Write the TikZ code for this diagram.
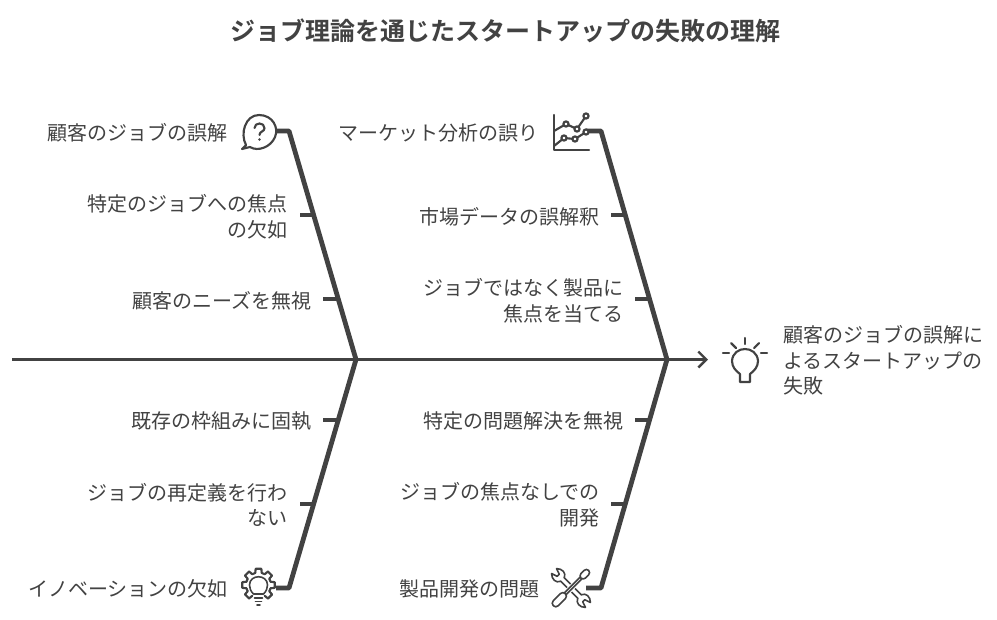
\documentclass[tikz,border=0pt]{standalone}
\usepackage{fontspec}
\setmainfont{Noto Sans CJK JP}
\newfontfamily\titlefont{Noto Sans CJK JP Bold}
\usepackage{tikz}
\usetikzlibrary{arrows.meta}
\definecolor{inkgray}{HTML}{424242}
\tikzset{
	bone/.style={draw=inkgray,line width=3.6pt,line join=round},
	twig/.style={draw=inkgray,line width=3pt},
	spine/.style={draw=inkgray,line width=1.8pt},
	icon/.style={draw=inkgray,line width=1.6pt,line cap=round,line join=round,fill=none},
	fineicon/.style={draw=inkgray,line width=1.2pt,line cap=round,line join=round,fill=none},
	cause/.style={text=inkgray,font=\fontsize{15pt}{19pt}\selectfont,inner sep=0pt,align=right,anchor=east},
	effect/.style={text=inkgray,font=\fontsize{15pt}{19pt}\selectfont,inner sep=0pt,align=left,anchor=west}
}
\begin{document}
\begin{tikzpicture}[x=0.75pt,y=-0.75pt]
	\useasboundingbox (0,0) rectangle (997,619);
	
	\node[text=inkgray,font=\titlefont\fontsize{18.75pt}{22pt}\selectfont,inner sep=0pt] (title) at (505,31) {ジョブ理論を通じたスタートアップの失敗の理解};
	
	% spine and junctions
	\coordinate (tail) at (12,359.5);
	\coordinate (headA) at (356,359.5);
	\coordinate (headB) at (667,359.5);
	\coordinate (tip) at (708,359.5);
	
	\coordinate (ulA) at (276,131);
	\coordinate (ulB) at (289,131);
	\coordinate (urA) at (586,131);
	\coordinate (urB) at (601,131);
	\coordinate (llA) at (276,588);
	\coordinate (llB) at (289,588);
	\coordinate (lrA) at (586,588);
	\coordinate (lrB) at (601,588);
	
	\path[spine] (tail) edge (headA) (headA) edge (headB);
	\draw[spine,-{Straight Barb[length=6pt,width=12pt]}] (headB) -- (tip);
	
	\draw[bone] (ulA) -- (ulB) -- (headA);
	\draw[bone] (urA) -- (urB) -- (headB);
	\draw[bone] (llA) -- (llB) -- (headA);
	\draw[bone] (lrA) -- (lrB) -- (headB);
	
	% short branches
	\coordinate (t1a) at (300,215); \coordinate (t1b) at (314,215);
	\coordinate (t2a) at (323,299); \coordinate (t2b) at (338,299);
	\coordinate (t3a) at (611,215); \coordinate (t3b) at (625,215);
	\coordinate (t4a) at (635,299); \coordinate (t4b) at (650,299);
	\coordinate (t5a) at (323,420); \coordinate (t5b) at (338,420);
	\coordinate (t6a) at (300,504); \coordinate (t6b) at (314,504);
	\coordinate (t7a) at (635,420); \coordinate (t7b) at (650,420);
	\coordinate (t8a) at (611,504); \coordinate (t8b) at (625,504);
	\foreach \i in {1,...,8}
		\draw[twig] (t\i a) -- (t\i b);
	
	% labels
	\node[cause] (a1) at (228,132.7) {顧客のジョブの誤解};
	\node[cause] (a2) at (288,216.7) {特定のジョブへの焦点\\の欠如};
	\node[cause] (a3) at (312,300.7) {顧客のニーズを無視};
	\node[cause] (b1) at (539,132.7) {マーケット分析の誤り};
	\node[cause] (b2) at (600,216.7) {市場データの誤解釈};
	\node[cause] (b3) at (624,300.7) {ジョブではなく製品に\\焦点を当てる};
	\node[cause] (c1) at (312,420.7) {既存の枠組みに固執};
	\node[cause] (c2) at (288,504.7) {ジョブの再定義を行わ\\ない};
	\node[cause] (c3) at (228,588.7) {イノベーションの欠如};
	\node[cause] (d1) at (624,420.7) {特定の問題解決を無視};
	\node[cause] (d2) at (600,504.7) {ジョブの焦点なしでの\\開発};
	\node[cause] (d3) at (540,588.7) {製品開発の問題};
	\node[effect] (goal) at (783,360.5) {顧客のジョブの誤解に\\よるスタートアップの\\失敗};
	
	% speech bubble
	\draw[icon] (246,145) .. controls (240,134) and (245,115) .. (259,115)
		.. controls (273,115) and (279,128) .. (275,137)
		.. controls (271,147) and (258,152) .. (250,147)
		-- (242,149) -- cycle;
	\draw[icon] (254.5,128) .. controls (254.5,122) and (264.5,122) .. (264.5,128)
		.. controls (264.5,132) and (259.5,131) .. (259.5,135);
	\fill[inkgray] (259.5,139.5) circle (1.4);
	
	% chart
	\draw[icon] (554,115) -- (554,150) -- (589,150);
	\draw[icon] (554,131) -- (566,124) -- (577,129) -- (586,116);
	\draw[icon] (554,146) -- (564,138) -- (575,139) -- (586,132);
	\foreach \p in {(566,124),(577,129),(586,116),(564,138),(575,139),(586,132)}
		\draw[icon,fill=white] \p circle (2.6);
	
	% bulb
	\draw[icon] (740,382) -- (740,374) .. controls (736,371) and (732,367) .. (732,361)
		.. controls (733,345) and (757,345) .. (758,361)
		.. controls (758,367) and (754,371) .. (750,374) -- (750,382) -- cycle;
	\draw[icon] (745,338) -- (745,344);
	\draw[icon] (731,343) -- (736,348);
	\draw[icon] (759,343) -- (754,348);
	\draw[icon] (723,353) -- (729,353);
	\draw[icon] (761,353) -- (767,353);
	
	% gear with bulb
	\begin{scope}[shift={(258.5,585)}]
		\foreach \a in {135,180,...,405}
			\draw[icon] (\a-15:12.5) -- (\a-10:16.5) -- (\a+10:16.5) -- (\a+15:12.5);
		\foreach \a in {135,180,...,360}
			\draw[icon] (\a+15:12.5) -- (\a+30:12.5);
		\draw[fineicon] (-5,9) .. controls (-8,6) and (-9,3) .. (-9,0)
			.. controls (-9,-11) and (9,-11) .. (9,0)
			.. controls (9,3) and (8,6) .. (5,9) -- (-5,9);
		\draw[fineicon] (-4,13) -- (4,13);
		\draw[fineicon] (-3,16.5) -- (3,16.5);
		\draw[fineicon] (-1.5,20) -- (1.5,20);
	\end{scope}
	
	% wrench and screwdriver
	\begin{scope}[shift={(571,588)},rotate=-45]
		\draw[fineicon] (-12,-2.5) -- (12,-2.5) (-12,2.5) -- (12,2.5);
		\foreach \s in {1,-1}
			\draw[fineicon,xscale=\s] (12,-2.5) .. controls (14,-7.5) and (20,-7.5) .. (24,-3.5) -- (18,-1.5) -- (18,1.5) -- (24,3.5) .. controls (20,7.5) and (14,7.5) .. (12,2.5);
	\end{scope}
	\begin{scope}[shift={(571,588)},rotate=45]
		\draw[fill=white,draw=none] (-10,-3) rectangle (12,3);
		\draw[fineicon] (-8,-1.2) -- (14,-1.2) (-8,1.2) -- (14,1.2);
		\draw[fineicon,fill=white,rounded corners=2.5] (-25,-3.5) rectangle (-8,3.5);
		\draw[fineicon,fill=white,rounded corners=2.5] (14,-3.2) rectangle (25,3.2);
	\end{scope}
\end{tikzpicture}
\end{document}
